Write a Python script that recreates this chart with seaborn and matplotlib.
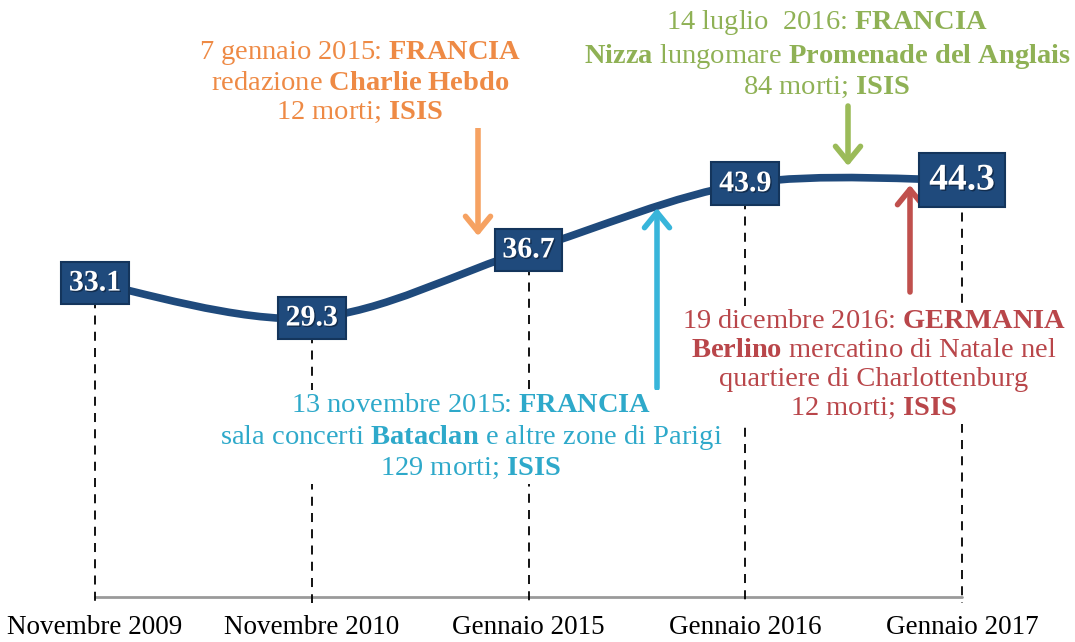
import numpy as np
import pandas as pd
import seaborn as sns
import matplotlib.pyplot as plt
import matplotlib.patheffects as pe
from matplotlib.path import Path
from matplotlib.patches import PathPatch

# Data
periods = ["Novembre 2009", "Novembre 2010", "Gennaio 2015", "Gennaio 2016", "Gennaio 2017"]
values = [33.1, 29.3, 36.7, 43.9, 44.3]

df = pd.DataFrame({"periodo": periods, "valore": values})
df["x"] = np.arange(len(df))

# Events (text, colour, text centre px, arrow tail px, arrow tip px)
ev_text = [
    "7 gennaio 2015: $\\mathbf{FRANCIA}$\nredazione $\\mathbf{Charlie\\ Hebdo}$\n12 morti; $\\mathbf{ISIS}$",
    "14 luglio  2016: $\\mathbf{FRANCIA}$\n$\\mathbf{Nizza}$ lungomare $\\mathbf{Promenade\\ del\\ Anglais}$\n84 morti; $\\mathbf{ISIS}$",
    "13 novembre 2015: $\\mathbf{FRANCIA}$\nsala concerti $\\mathbf{Bataclan}$ e altre zone di Parigi\n129 morti; $\\mathbf{ISIS}$",
    "19 dicembre 2016: $\\mathbf{GERMANIA}$\n$\\mathbf{Berlino}$ mercatino di Natale nel\nquartiere di Charlottenburg\n12 morti; $\\mathbf{ISIS}$",
]
ev_text_col = ["#EE8A45", "#8FB155", "#2EA9CA", "#B9464A"]
ev_arrow_col = ["#F6A262", "#9BBB59", "#38B5DA", "#C0504D"]
ev_text_pos = [(360, 82), (827, 54), (471, 437), (874, 365)]
ev_tail = [(478, 120), (848, 106), (657, 388), (910, 292)]
ev_tip = [(478, 236), (848, 166), (657, 208), (910, 185)]

sns.set_theme(style="white")
plt.rcParams["font.family"] = ["Liberation Serif", "DejaVu Serif"]
plt.rcParams["mathtext.fontset"] = "custom"
plt.rcParams["mathtext.rm"] = "Liberation Serif"
plt.rcParams["mathtext.it"] = "Liberation Serif:italic"
plt.rcParams["mathtext.bf"] = "Liberation Serif:bold"

W, H = 1075, 642
fig = plt.figure(figsize=(W / 100, H / 100), dpi=100)
ax = fig.add_axes([0, 0, 1, 1])
ax.set_xlim(-0.438, 4.521)
ax.set_ylim(-5.92, 63.87)
ax.axis("off")


def px(x, y):
    return (x / W, 1 - y / H)


navy = "#1F4A7C"
base_y = -1.0

# baseline and dashed drop lines
ax.plot([df["x"].iloc[0], df["x"].iloc[-1]], [base_y, base_y], color="#9a9a9a", lw=2, zorder=1)
for x, v in zip(df["x"], df["valore"]):
    ax.plot([x, x], [v, base_y - 0.7], color="black", lw=1.3, ls=(0, (5, 4)), zorder=1)

# smooth line (Catmull-Rom as Bezier)
pts = df[["x", "valore"]].to_numpy(dtype=float)
ext = np.vstack([pts[0], pts, pts[-1]])
verts = [tuple(pts[0])]
codes = [Path.MOVETO]
for i in range(len(pts) - 1):
    p0, p1, p2, p3 = ext[i], ext[i + 1], ext[i + 2], ext[i + 3]
    c1 = p1 + (p2 - p0) / 6
    c2 = p2 - (p3 - p1) / 6
    verts += [tuple(c1), tuple(c2), tuple(p2)]
    codes += [Path.CURVE4] * 3
ax.add_patch(PathPatch(Path(verts, codes), fill=False, ec=navy, lw=5.5, zorder=3, capstyle="round"))

# value boxes
for i, (x, v) in enumerate(zip(df["x"], df["valore"])):
    big = i == len(df) - 1
    ax.text(x, v, f"{v:.1f}", ha="center", va="center", color="white", weight="bold",
            fontsize=27 if big else 21.5, zorder=5,
            path_effects=[pe.withSimplePatchShadow(offset=(1, -1), shadow_rgbFace="#0a1a30", alpha=0.6)],
            bbox=dict(boxstyle="square,pad=0.26", fc=navy, ec="#14355c", lw=1.5))

# x labels
for x, lab in zip(df["x"], df["periodo"]):
    ax.text(x, 1 - 627 / H, lab, transform=ax.get_xaxis_transform(), ha="center", va="center",
            fontsize=19.5, color="black")

# event annotations
for txt, tc, ac, tp, tail, tip in zip(ev_text, ev_text_col, ev_arrow_col, ev_text_pos, ev_tail, ev_tip):
    fig.text(*px(*tp), txt, ha="center", va="center", color=tc, fontsize=20.5, linespacing=1.22,
             zorder=4, bbox=dict(boxstyle="square,pad=0.1", fc="white", ec="none"))
    ax.annotate("", xy=px(*tip), xytext=px(*tail), xycoords="figure fraction", textcoords="figure fraction",
                arrowprops=dict(arrowstyle="->,head_length=0.55,head_width=0.45", color=ac, lw=4,
                                mutation_scale=20, shrinkA=0, shrinkB=0), zorder=4)

fig.savefig("out.png", dpi=100, facecolor="white")
